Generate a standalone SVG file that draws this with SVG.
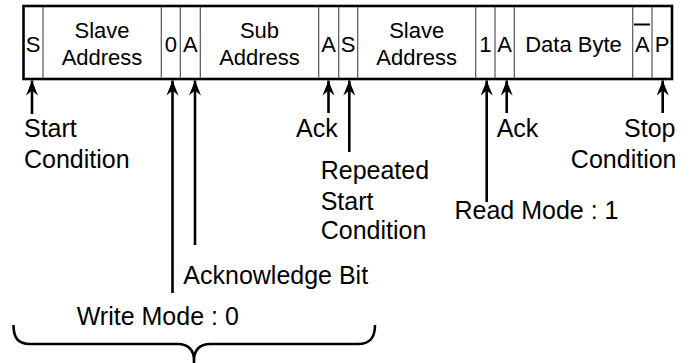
<svg xmlns="http://www.w3.org/2000/svg" width="693" height="363" viewBox="0 0 693 363">
<style>
.bt{font-family:"Liberation Sans",Arial,sans-serif;font-size:22px;fill:#000;text-anchor:middle}
.lb{font-family:"Liberation Sans",Arial,sans-serif;font-size:25px;fill:#000}
.div{stroke:#555;stroke-width:1.2}
.ar{stroke:#000;stroke-width:2.6;fill:none}
</style>
<defs>
<marker id="ah" markerUnits="userSpaceOnUse" viewBox="-15 -7 16 14" markerWidth="16" markerHeight="14" refX="0" refY="0" orient="auto-start-reverse" overflow="visible">
<path d="M0,0 L-15,-6 L-10,0 L-15,6 Z" fill="#000"/>
</marker>
</defs>
<rect x="0" y="0" width="693" height="363" fill="#fff"/>
<g id="frame">
<rect x="23.5" y="6" width="648.5" height="73" fill="#fff" stroke="#000" stroke-width="2.6"/>
<line class="div" x1="43" y1="7" x2="43" y2="78"/>
<line class="div" x1="161.3" y1="7" x2="161.3" y2="78"/>
<line class="div" x1="180.3" y1="7" x2="180.3" y2="78"/>
<line class="div" x1="200.3" y1="7" x2="200.3" y2="78"/>
<line class="div" x1="318.7" y1="7" x2="318.7" y2="78"/>
<line class="div" x1="338.7" y1="7" x2="338.7" y2="78"/>
<line class="div" x1="357.7" y1="7" x2="357.7" y2="78"/>
<line class="div" x1="475.7" y1="7" x2="475.7" y2="78"/>
<line class="div" x1="495" y1="7" x2="495" y2="78"/>
<line class="div" x1="514.3" y1="7" x2="514.3" y2="78"/>
<line class="div" x1="632.7" y1="7" x2="632.7" y2="78"/>
<line class="div" x1="652" y1="7" x2="652" y2="78"/>
</g>
<g id="cell-start"><text class="bt" x="33" y="52">S</text></g>
<g id="cell-slave1"><text class="bt" x="102" y="38">Slave</text><text class="bt" x="102" y="65">Address</text></g>
<g id="cell-w"><text class="bt" x="170.8" y="52">0</text></g>
<g id="cell-a1"><text class="bt" x="190.3" y="52">A</text></g>
<g id="cell-sub"><text class="bt" x="259.5" y="38">Sub</text><text class="bt" x="259.5" y="65">Address</text></g>
<g id="cell-a2"><text class="bt" x="328.7" y="52">A</text></g>
<g id="cell-rs"><text class="bt" x="348.2" y="52">S</text></g>
<g id="cell-slave2"><text class="bt" x="416.7" y="38">Slave</text><text class="bt" x="416.7" y="65">Address</text></g>
<g id="cell-r"><text class="bt" x="485.3" y="52">1</text></g>
<g id="cell-a3"><text class="bt" x="504.7" y="52">A</text></g>
<g id="cell-data"><text class="bt" x="573.5" y="52">Data Byte</text></g>
<g id="cell-nack"><text class="bt" x="642.3" y="52">A</text><line x1="634" y1="24.5" x2="650" y2="24.5" stroke="#000" stroke-width="2"/></g>
<g id="cell-p"><text class="bt" x="662" y="52">P</text></g>
<g id="connectors">
<line class="ar" marker-start="url(#ah)" x1="32" y1="80.5" x2="32" y2="114"/>
<line class="ar" marker-start="url(#ah)" x1="172.5" y1="80.5" x2="172.5" y2="293"/>
<line class="ar" marker-start="url(#ah)" x1="195" y1="80.5" x2="195" y2="245"/>
<line class="ar" marker-start="url(#ah)" x1="328.5" y1="80.5" x2="328.5" y2="113"/>
<line class="ar" marker-start="url(#ah)" x1="349.3" y1="80.5" x2="349.3" y2="152"/>
<line class="ar" marker-start="url(#ah)" x1="486.7" y1="80.5" x2="486.7" y2="202"/>
<line class="ar" marker-start="url(#ah)" x1="506.7" y1="80.5" x2="506.7" y2="113"/>
<line class="ar" marker-start="url(#ah)" x1="662.7" y1="80.5" x2="662.7" y2="113"/>
<path class="ar" stroke-width="2.2" d="M13.5,325 C13.5,338 18,344 30,344 L178,344 C188,344 194,350 194,360 L194,363 M194,360 C194,350 200,344 210,344 L358,344 C370,344 375,338 375,325"/>
</g>
<g id="label-start"><text class="lb" x="24" y="137">Start</text><text class="lb" x="24" y="167.5">Condition</text></g>
<g id="label-ack1"><text class="lb" x="296" y="137">Ack</text></g>
<g id="label-rs"><text class="lb" x="320.7" y="178.5">Repeated</text><text class="lb" x="320.7" y="209.5">Start</text><text class="lb" x="320.7" y="238.5">Condition</text></g>
<g id="label-read"><text class="lb" x="454.5" y="219">Read Mode : 1</text></g>
<g id="label-ack2"><text class="lb" x="496.7" y="137">Ack</text></g>
<g id="label-stop"><text class="lb" x="675.5" y="137" text-anchor="end">Stop</text><text class="lb" x="676.5" y="167.5" text-anchor="end">Condition</text></g>
<g id="label-ackbit"><text class="lb" x="183.3" y="283.5">Acknowledge Bit</text></g>
<g id="label-write"><text class="lb" x="76.7" y="325">Write Mode : 0</text></g>
</svg>
